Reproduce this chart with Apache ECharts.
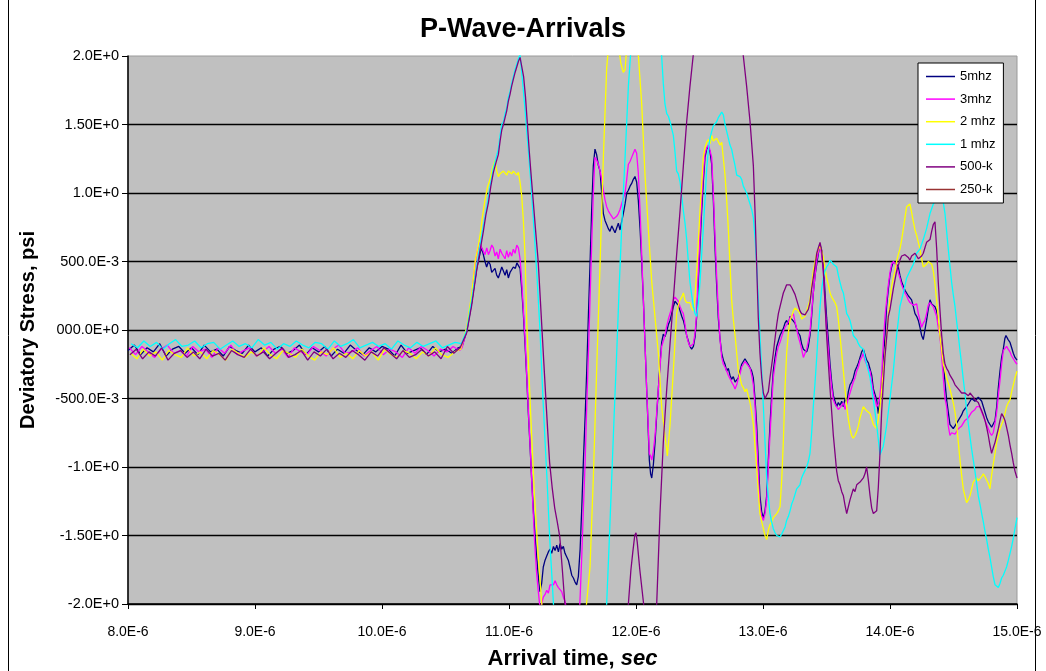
<!DOCTYPE html>
<html>
<head>
<meta charset="utf-8">
<script src="https://cdn.jsdelivr.net/npm/echarts@6/dist/echarts.min.js"></script>
<style>
  html, body { margin: 0; padding: 0; background: #fff; }
  #chart { width: 1046px; height: 671px; }
</style>
</head>
<body>
<div id="chart"></div>
<script>
// ---------- tick labels ----------
const xTickLabels = ['8.0E-6','9.0E-6','10.0E-6','11.0E-6','12.0E-6','13.0E-6','14.0E-6','15.0E-6'];
const yTickLabels = ['-2.0E+0','-1.50E+0','-1.0E+0','-500.0E-3','000.0E+0','500.0E-3','1.0E+0','1.50E+0','2.0E+0'];
const seriesNames = ['5mhz','3mhz','2 mhz','1 mhz','500-k','250-k'];

// ---------- pre-trigger noise (time in microseconds from noise start, step 0.05) ----------
const noiseStep = 0.05;
const noiseStarts = [8.00, 8.01, 8.02, 8.025, 8.015, 8.0];
const noise5mhz = [-0.15,-0.11,-0.18,-0.13,-0.16,-0.10,-0.19,-0.14,-0.12,-0.17,-0.13,-0.18,-0.11,-0.16,-0.14,-0.19,-0.12,-0.15,-0.17,-0.11,-0.16,-0.13,-0.19,-0.14,-0.12,-0.17,-0.15,-0.11,-0.18,-0.13,-0.16,-0.12,-0.19,-0.14,-0.17,-0.11,-0.15,-0.18,-0.13,-0.16,-0.12,-0.14,-0.19,-0.11,-0.17,-0.15,-0.13,-0.18,-0.12,-0.16,-0.14,-0.17,-0.13];
const noise3mhz = [-0.13,-0.18,-0.12,-0.16,-0.20,-0.14,-0.11,-0.17,-0.15,-0.19,-0.12,-0.16,-0.14,-0.20,-0.13,-0.17,-0.11,-0.18,-0.15,-0.13,-0.19,-0.16,-0.12,-0.17,-0.14,-0.20,-0.13,-0.16,-0.18,-0.12,-0.15,-0.19,-0.14,-0.11,-0.17,-0.16,-0.13,-0.19,-0.15,-0.12,-0.18,-0.14,-0.16,-0.20,-0.13,-0.17,-0.12,-0.15,-0.19,-0.14,-0.16,-0.12,-0.15];
const noise2mhz = [-0.17,-0.21,-0.14,-0.19,-0.16,-0.22,-0.15,-0.18,-0.20,-0.13,-0.19,-0.16,-0.21,-0.15,-0.18,-0.22,-0.14,-0.17,-0.20,-0.16,-0.19,-0.13,-0.18,-0.21,-0.15,-0.17,-0.20,-0.14,-0.19,-0.22,-0.16,-0.18,-0.13,-0.20,-0.17,-0.21,-0.15,-0.19,-0.16,-0.22,-0.14,-0.18,-0.20,-0.15,-0.17,-0.21,-0.16,-0.19,-0.13,-0.18,-0.20,-0.16,-0.14];
const noise1mhz = [-0.10,-0.13,-0.08,-0.12,-0.09,-0.14,-0.10,-0.07,-0.12,-0.11,-0.08,-0.13,-0.10,-0.09,-0.14,-0.11,-0.08,-0.12,-0.10,-0.13,-0.07,-0.11,-0.09,-0.14,-0.10,-0.12,-0.08,-0.11,-0.13,-0.09,-0.10,-0.14,-0.08,-0.12,-0.10,-0.07,-0.13,-0.11,-0.09,-0.12,-0.10,-0.14,-0.08,-0.11,-0.13,-0.09,-0.12,-0.10,-0.08,-0.13,-0.11,-0.09,-0.10];
const noise500k = [-0.18,-0.14,-0.21,-0.16,-0.19,-0.13,-0.22,-0.17,-0.15,-0.20,-0.16,-0.21,-0.14,-0.19,-0.17,-0.22,-0.15,-0.18,-0.20,-0.14,-0.19,-0.16,-0.21,-0.17,-0.13,-0.20,-0.18,-0.15,-0.22,-0.16,-0.19,-0.14,-0.21,-0.17,-0.20,-0.15,-0.18,-0.22,-0.16,-0.19,-0.13,-0.17,-0.21,-0.15,-0.20,-0.18,-0.14,-0.19,-0.16,-0.21,-0.12,-0.17,-0.13];
const noise250k = [];

// ---------- arrival waveforms [time us, stress psi] ----------
const wave5mhz = [[10.63,-0.12],[10.667,-0.01],[10.706,0.2],[10.746,0.45],[10.772,0.56],[10.785,0.6],[10.798,0.55],[10.811,0.5],[10.824,0.46],[10.838,0.5],[10.851,0.48],[10.864,0.42],[10.877,0.43],[10.89,0.45],[10.903,0.4],[10.916,0.38],[10.93,0.42],[10.943,0.46],[10.956,0.43],[10.969,0.4],[10.982,0.44],[10.995,0.38],[11.008,0.42],[11.021,0.44],[11.034,0.46],[11.05,0.45],[11.062,0.49],[11.074,0.5],[11.087,0.45],[11.1,0.3],[11.113,0.12],[11.126,-0.1],[11.14,-0.35],[11.152,-0.6],[11.166,-0.85],[11.179,-1.1],[11.192,-1.32],[11.205,-1.5],[11.218,-1.66],[11.231,-1.8],[11.244,-1.91],[11.257,-1.85],[11.27,-1.73],[11.284,-1.68],[11.297,-1.65],[11.31,-1.62],[11.323,-1.6],[11.336,-1.63],[11.35,-1.58],[11.363,-1.61],[11.376,-1.57],[11.389,-1.62],[11.402,-1.56],[11.415,-1.6],[11.428,-1.58],[11.441,-1.63],[11.454,-1.62],[11.467,-1.68],[11.48,-1.73],[11.494,-1.79],[11.507,-1.81],[11.52,-1.84],[11.533,-1.86],[11.546,-1.8],[11.56,-1.6],[11.573,-1.3],[11.586,-0.95],[11.6,-0.62],[11.612,-0.3],[11.625,0.1],[11.638,0.48],[11.651,0.88],[11.664,1.2],[11.677,1.32],[11.69,1.28],[11.704,1.2],[11.717,1.16],[11.73,1.0],[11.743,0.85],[11.756,0.8],[11.769,0.77],[11.782,0.74],[11.795,0.72],[11.809,0.76],[11.822,0.77],[11.835,0.71],[11.848,0.72],[11.861,0.78],[11.874,0.73],[11.887,0.74],[11.9,0.85],[11.914,0.92],[11.927,1.0],[11.94,1.02],[11.953,1.05],[11.966,1.07],[11.979,1.1],[11.992,1.12],[12.005,1.08],[12.018,0.95],[12.032,0.74],[12.045,0.5],[12.058,0.22],[12.071,-0.1],[12.084,-0.43],[12.097,-0.75],[12.105,-0.95],[12.115,-1.05],[12.124,-1.08],[12.137,-0.98],[12.15,-0.82],[12.163,-0.62],[12.176,-0.43],[12.189,-0.25],[12.202,-0.09],[12.215,-0.03],[12.228,-0.05],[12.242,-0.01],[12.255,0.04],[12.268,0.07],[12.281,0.12],[12.294,0.17],[12.307,0.21],[12.32,0.2],[12.333,0.18],[12.347,0.14],[12.36,0.1],[12.373,0.07],[12.386,0.02],[12.399,-0.04],[12.412,-0.08],[12.425,-0.12],[12.438,-0.14],[12.452,-0.12],[12.465,-0.05],[12.478,0.1],[12.491,0.35],[12.504,0.62],[12.517,0.87],[12.53,1.08],[12.543,1.26],[12.557,1.32],[12.57,1.34],[12.583,1.3],[12.596,1.21],[12.609,0.95],[12.622,0.61],[12.635,0.33],[12.648,0.09],[12.661,-0.06],[12.675,-0.17],[12.688,-0.22],[12.701,-0.25],[12.714,-0.3],[12.727,-0.28],[12.74,-0.33],[12.753,-0.36],[12.766,-0.34],[12.78,-0.38],[12.793,-0.37],[12.806,-0.35],[12.819,-0.3],[12.832,-0.25],[12.845,-0.24],[12.858,-0.21],[12.871,-0.22],[12.884,-0.25],[12.898,-0.26],[12.911,-0.3],[12.924,-0.35],[12.937,-0.5],[12.95,-0.69],[12.963,-0.95],[12.976,-1.21],[12.99,-1.33],[13.003,-1.37],[13.016,-1.32],[13.029,-1.21],[13.042,-0.95],[13.055,-0.69],[13.068,-0.48],[13.081,-0.3],[13.095,-0.2],[13.108,-0.12],[13.121,-0.08],[13.134,-0.04],[13.147,-0.03],[13.16,0.01],[13.173,0.05],[13.186,0.07],[13.2,0.04],[13.213,0.1],[13.226,0.08],[13.239,0.09],[13.252,0.05],[13.265,0.01],[13.278,-0.02],[13.291,-0.04],[13.304,-0.1],[13.318,-0.14],[13.331,-0.13],[13.344,-0.16],[13.357,-0.12],[13.37,-0.04],[13.383,0.1],[13.396,0.27],[13.41,0.4],[13.423,0.48],[13.436,0.56],[13.449,0.62],[13.462,0.58],[13.475,0.48],[13.488,0.28],[13.501,0.09],[13.515,-0.08],[13.528,-0.25],[13.541,-0.38],[13.554,-0.48],[13.567,-0.52],[13.58,-0.56],[13.593,-0.53],[13.606,-0.55],[13.62,-0.52],[13.633,-0.56],[13.646,-0.5],[13.659,-0.53],[13.672,-0.45],[13.685,-0.4],[13.698,-0.38],[13.711,-0.35],[13.724,-0.3],[13.738,-0.27],[13.751,-0.24],[13.764,-0.2],[13.777,-0.16],[13.79,-0.14],[13.803,-0.18],[13.816,-0.22],[13.83,-0.24],[13.843,-0.25],[13.856,-0.33],[13.869,-0.43],[13.882,-0.47],[13.895,-0.51],[13.908,-0.61],[13.921,-0.52],[13.934,-0.43],[13.947,-0.22],[13.961,-0.04],[13.973,0.17],[13.987,0.3],[14.0,0.4],[14.013,0.46],[14.026,0.5],[14.039,0.51],[14.052,0.48],[14.065,0.46],[14.078,0.4],[14.092,0.35],[14.105,0.32],[14.118,0.29],[14.131,0.27],[14.144,0.25],[14.157,0.24],[14.17,0.22],[14.184,0.17],[14.197,0.12],[14.21,0.1],[14.223,0.07],[14.236,0.02],[14.249,-0.04],[14.262,-0.07],[14.275,0.0],[14.288,0.07],[14.301,0.15],[14.315,0.22],[14.328,0.19],[14.341,0.2],[14.354,0.17],[14.367,0.14],[14.38,0.05],[14.393,-0.04],[14.407,-0.14],[14.42,-0.25],[14.433,-0.38],[14.446,-0.51],[14.459,-0.6],[14.472,-0.69],[14.485,-0.7],[14.498,-0.72],[14.512,-0.7],[14.525,-0.69],[14.538,-0.66],[14.551,-0.64],[14.564,-0.62],[14.577,-0.59],[14.59,-0.58],[14.603,-0.56],[14.617,-0.54],[14.63,-0.52],[14.643,-0.5],[14.656,-0.49],[14.669,-0.52],[14.682,-0.51],[14.695,-0.49],[14.708,-0.48],[14.722,-0.52],[14.735,-0.56],[14.748,-0.6],[14.761,-0.64],[14.774,-0.67],[14.787,-0.69],[14.8,-0.71],[14.813,-0.72],[14.827,-0.66],[14.84,-0.56],[14.853,-0.42],[14.866,-0.3],[14.879,-0.2],[14.892,-0.14],[14.905,-0.06],[14.913,-0.04],[14.93,-0.07],[14.945,-0.09],[14.958,-0.13],[14.971,-0.17],[14.984,-0.2],[15.0,-0.22]];

const wave3mhz = [[10.63,-0.13],[10.667,0.0],[10.706,0.24],[10.733,0.48],[10.752,0.58],[10.772,0.64],[10.785,0.6],[10.798,0.59],[10.811,0.55],[10.825,0.6],[10.838,0.55],[10.851,0.58],[10.864,0.62],[10.877,0.6],[10.89,0.54],[10.903,0.57],[10.916,0.52],[10.93,0.59],[10.943,0.56],[10.956,0.57],[10.969,0.52],[10.982,0.58],[10.995,0.53],[11.008,0.57],[11.021,0.54],[11.034,0.59],[11.048,0.56],[11.061,0.62],[11.074,0.6],[11.087,0.52],[11.1,0.36],[11.113,0.15],[11.126,-0.06],[11.139,-0.32],[11.152,-0.58],[11.166,-0.84],[11.179,-1.1],[11.192,-1.36],[11.205,-1.6],[11.218,-1.78],[11.231,-1.91],[11.244,-2.03],[11.257,-2.0],[11.27,-1.95],[11.284,-1.93],[11.297,-1.9],[11.31,-1.92],[11.323,-1.86],[11.336,-1.85],[11.35,-1.86],[11.363,-1.83],[11.376,-1.86],[11.389,-1.88],[11.402,-1.87],[11.415,-1.91],[11.428,-1.95],[11.441,-1.98],[11.46,-2.08],[11.5,-2.2],[11.55,-2.15],[11.56,-1.95],[11.573,-1.65],[11.586,-1.3],[11.6,-0.95],[11.612,-0.56],[11.625,-0.18],[11.638,0.22],[11.651,0.62],[11.664,1.0],[11.677,1.26],[11.69,1.24],[11.704,1.21],[11.717,1.16],[11.73,1.1],[11.743,1.02],[11.756,0.95],[11.769,0.9],[11.782,0.87],[11.795,0.85],[11.809,0.83],[11.822,0.81],[11.835,0.82],[11.848,0.83],[11.861,0.85],[11.874,0.88],[11.887,0.92],[11.9,0.96],[11.914,1.0],[11.927,1.1],[11.94,1.21],[11.953,1.23],[11.966,1.26],[11.979,1.29],[11.992,1.32],[12.005,1.29],[12.018,1.15],[12.032,0.87],[12.045,0.55],[12.058,0.22],[12.071,-0.1],[12.084,-0.43],[12.097,-0.72],[12.105,-0.9],[12.115,-0.92],[12.124,-0.95],[12.137,-0.88],[12.15,-0.77],[12.163,-0.6],[12.176,-0.43],[12.189,-0.27],[12.202,-0.12],[12.215,-0.08],[12.228,-0.04],[12.242,0.03],[12.255,0.08],[12.268,0.12],[12.281,0.16],[12.294,0.22],[12.307,0.24],[12.32,0.25],[12.333,0.21],[12.347,0.17],[12.36,0.14],[12.373,0.12],[12.386,0.04],[12.399,-0.04],[12.412,-0.09],[12.425,-0.12],[12.438,-0.13],[12.452,-0.1],[12.465,-0.02],[12.478,0.12],[12.491,0.43],[12.504,0.7],[12.517,0.95],[12.53,1.14],[12.543,1.29],[12.557,1.33],[12.57,1.35],[12.583,1.31],[12.596,1.26],[12.609,1.0],[12.622,0.69],[12.635,0.4],[12.648,0.14],[12.661,-0.06],[12.675,-0.2],[12.688,-0.25],[12.701,-0.27],[12.714,-0.3],[12.727,-0.33],[12.74,-0.34],[12.753,-0.38],[12.766,-0.4],[12.78,-0.43],[12.793,-0.4],[12.806,-0.35],[12.819,-0.32],[12.832,-0.27],[12.845,-0.25],[12.858,-0.23],[12.871,-0.22],[12.884,-0.26],[12.898,-0.28],[12.911,-0.33],[12.924,-0.4],[12.937,-0.55],[12.95,-0.78],[12.963,-1.05],[12.976,-1.29],[12.99,-1.36],[13.003,-1.39],[13.016,-1.34],[13.029,-1.24],[13.042,-1.0],[13.055,-0.77],[13.068,-0.55],[13.081,-0.35],[13.095,-0.25],[13.108,-0.17],[13.121,-0.12],[13.134,-0.09],[13.147,-0.05],[13.16,-0.01],[13.173,0.02],[13.186,0.04],[13.2,0.06],[13.213,0.09],[13.226,0.1],[13.239,0.12],[13.252,0.06],[13.265,0.01],[13.278,-0.05],[13.291,-0.09],[13.304,-0.14],[13.318,-0.2],[13.331,-0.17],[13.344,-0.14],[13.357,-0.08],[13.37,-0.01],[13.383,0.13],[13.396,0.27],[13.41,0.4],[13.423,0.51],[13.436,0.57],[13.449,0.61],[13.462,0.55],[13.475,0.43],[13.488,0.2],[13.501,0.01],[13.515,-0.15],[13.528,-0.3],[13.541,-0.42],[13.554,-0.51],[13.567,-0.54],[13.58,-0.56],[13.593,-0.58],[13.606,-0.59],[13.62,-0.55],[13.633,-0.53],[13.646,-0.58],[13.659,-0.59],[13.672,-0.5],[13.685,-0.46],[13.698,-0.42],[13.711,-0.38],[13.724,-0.35],[13.738,-0.3],[13.751,-0.27],[13.764,-0.22],[13.777,-0.2],[13.79,-0.17],[13.803,-0.22],[13.816,-0.25],[13.83,-0.28],[13.843,-0.3],[13.856,-0.38],[13.869,-0.46],[13.882,-0.5],[13.895,-0.56],[13.908,-0.54],[13.921,-0.48],[13.934,-0.33],[13.947,-0.1],[13.961,0.1],[13.974,0.22],[13.987,0.33],[14.0,0.42],[14.013,0.48],[14.026,0.5],[14.039,0.5],[14.052,0.47],[14.065,0.42],[14.078,0.38],[14.092,0.33],[14.105,0.3],[14.118,0.27],[14.131,0.25],[14.144,0.22],[14.157,0.2],[14.17,0.2],[14.184,0.18],[14.197,0.19],[14.21,0.19],[14.223,0.12],[14.236,0.07],[14.249,0.02],[14.262,0.05],[14.275,0.07],[14.288,0.12],[14.301,0.18],[14.315,0.2],[14.328,0.2],[14.341,0.17],[14.354,0.16],[14.367,0.1],[14.38,0.02],[14.393,-0.04],[14.407,-0.2],[14.42,-0.35],[14.433,-0.5],[14.446,-0.56],[14.459,-0.7],[14.472,-0.77],[14.485,-0.75],[14.498,-0.74],[14.512,-0.76],[14.525,-0.74],[14.538,-0.72],[14.551,-0.71],[14.564,-0.7],[14.577,-0.68],[14.59,-0.66],[14.603,-0.67],[14.617,-0.64],[14.63,-0.62],[14.643,-0.6],[14.656,-0.61],[14.669,-0.58],[14.682,-0.56],[14.695,-0.57],[14.708,-0.56],[14.722,-0.6],[14.735,-0.63],[14.748,-0.66],[14.761,-0.69],[14.774,-0.72],[14.787,-0.75],[14.8,-0.77],[14.813,-0.75],[14.827,-0.68],[14.84,-0.6],[14.853,-0.48],[14.866,-0.37],[14.879,-0.25],[14.892,-0.15],[14.905,-0.15],[14.918,-0.12],[14.93,-0.14],[14.945,-0.16],[14.958,-0.19],[14.971,-0.2],[14.984,-0.23],[15.0,-0.25]];

const wave2mhz = [[10.63,-0.14],[10.667,0.02],[10.706,0.26],[10.733,0.5],[10.759,0.62],[10.772,0.69],[10.79,0.82],[10.811,0.95],[10.83,1.04],[10.851,1.1],[10.87,1.18],[10.89,1.24],[10.903,1.16],[10.916,1.12],[10.929,1.14],[10.943,1.13],[10.956,1.16],[10.969,1.15],[10.982,1.13],[10.995,1.16],[11.008,1.16],[11.021,1.14],[11.034,1.16],[11.048,1.15],[11.061,1.13],[11.074,1.15],[11.087,1.08],[11.1,0.98],[11.113,0.8],[11.126,0.55],[11.14,0.05],[11.17,-0.6],[11.2,-1.2],[11.23,-1.65],[11.26,-2.02],[11.3,-2.3],[11.55,-2.3],[11.6,-2.1],[11.638,-1.73],[11.664,-1.08],[11.69,-0.3],[11.717,0.48],[11.743,1.26],[11.769,1.91],[11.782,2.05],[11.8,2.3],[11.86,2.1],[11.88,1.95],[11.9,1.88],[11.914,1.9],[11.93,2.1],[11.97,2.3],[12.0,2.15],[12.019,2.0],[12.045,1.65],[12.071,1.13],[12.097,0.74],[12.124,0.35],[12.15,0.09],[12.176,-0.17],[12.202,-0.56],[12.228,-0.77],[12.247,-0.92],[12.268,-0.69],[12.294,-0.3],[12.32,0.12],[12.333,0.18],[12.347,0.22],[12.36,0.24],[12.373,0.27],[12.386,0.22],[12.399,0.2],[12.412,0.21],[12.425,0.2],[12.438,0.16],[12.452,0.14],[12.465,0.25],[12.478,0.43],[12.491,0.65],[12.504,0.87],[12.517,1.06],[12.53,1.26],[12.543,1.33],[12.557,1.37],[12.57,1.39],[12.583,1.36],[12.596,1.42],[12.609,1.38],[12.622,1.37],[12.635,1.4],[12.648,1.39],[12.661,1.35],[12.675,1.37],[12.688,1.25],[12.701,1.13],[12.714,0.95],[12.727,0.74],[12.74,0.48],[12.753,0.22],[12.766,0.08],[12.78,-0.04],[12.793,-0.17],[12.806,-0.3],[12.819,-0.35],[12.832,-0.4],[12.845,-0.42],[12.858,-0.45],[12.871,-0.43],[12.884,-0.48],[12.898,-0.53],[12.911,-0.6],[12.924,-0.69],[12.937,-0.85],[12.95,-1.0],[12.963,-1.18],[12.976,-1.34],[12.99,-1.4],[13.003,-1.45],[13.016,-1.5],[13.029,-1.53],[13.042,-1.46],[13.055,-1.42],[13.068,-1.4],[13.081,-1.37],[13.095,-1.36],[13.108,-1.34],[13.121,-1.32],[13.134,-1.29],[13.147,-1.1],[13.16,-0.82],[13.173,-0.43],[13.186,-0.17],[13.2,-0.02],[13.213,0.07],[13.226,0.1],[13.239,0.14],[13.252,0.16],[13.265,0.17],[13.278,0.14],[13.291,0.12],[13.304,0.08],[13.318,0.07],[13.331,0.1],[13.344,0.14],[13.357,0.18],[13.37,0.22],[13.383,0.32],[13.396,0.43],[13.41,0.5],[13.423,0.56],[13.436,0.59],[13.449,0.61],[13.462,0.58],[13.475,0.53],[13.488,0.45],[13.501,0.38],[13.515,0.33],[13.528,0.27],[13.541,0.24],[13.554,0.22],[13.567,0.2],[13.58,0.17],[13.593,0.08],[13.606,-0.04],[13.62,-0.17],[13.633,-0.3],[13.646,-0.43],[13.659,-0.56],[13.672,-0.65],[13.685,-0.72],[13.698,-0.77],[13.711,-0.79],[13.724,-0.77],[13.738,-0.74],[13.751,-0.7],[13.764,-0.64],[13.777,-0.6],[13.79,-0.56],[13.803,-0.57],[13.816,-0.59],[13.83,-0.58],[13.843,-0.61],[13.856,-0.65],[13.869,-0.69],[13.882,-0.7],[13.895,-0.72],[13.908,-0.65],[13.921,-0.56],[13.934,-0.44],[13.947,-0.3],[13.96,-0.17],[13.973,-0.04],[13.986,0.09],[13.999,0.22],[14.013,0.32],[14.026,0.38],[14.039,0.43],[14.052,0.5],[14.065,0.55],[14.078,0.59],[14.092,0.66],[14.105,0.74],[14.118,0.82],[14.131,0.9],[14.144,0.9],[14.157,0.92],[14.17,0.86],[14.184,0.79],[14.197,0.73],[14.21,0.69],[14.223,0.64],[14.236,0.59],[14.249,0.52],[14.262,0.46],[14.275,0.47],[14.288,0.48],[14.301,0.5],[14.315,0.51],[14.328,0.48],[14.341,0.43],[14.354,0.34],[14.367,0.22],[14.38,0.09],[14.393,-0.04],[14.407,-0.15],[14.42,-0.25],[14.433,-0.3],[14.446,-0.35],[14.459,-0.39],[14.472,-0.43],[14.485,-0.48],[14.498,-0.53],[14.512,-0.6],[14.525,-0.69],[14.538,-0.82],[14.551,-0.95],[14.564,-1.06],[14.577,-1.16],[14.59,-1.21],[14.603,-1.26],[14.617,-1.24],[14.63,-1.21],[14.643,-1.16],[14.656,-1.11],[14.669,-1.1],[14.682,-1.08],[14.695,-1.1],[14.708,-1.11],[14.722,-1.07],[14.735,-1.05],[14.748,-1.07],[14.761,-1.08],[14.774,-1.12],[14.787,-1.16],[14.8,-1.06],[14.813,-0.98],[14.827,-0.9],[14.84,-0.82],[14.853,-0.77],[14.866,-0.72],[14.879,-0.69],[14.892,-0.66],[14.905,-0.61],[14.918,-0.56],[14.932,-0.53],[14.945,-0.51],[14.958,-0.45],[14.971,-0.4],[14.984,-0.35],[15.0,-0.3]];

const wave1mhz = [[10.63,-0.1],[10.667,0.0],[10.706,0.22],[10.746,0.47],[10.772,0.62],[10.798,0.76],[10.818,0.86],[10.838,0.97],[10.857,1.08],[10.877,1.18],[10.897,1.25],[10.916,1.32],[10.93,1.42],[10.943,1.5],[10.956,1.52],[10.969,1.58],[10.982,1.62],[10.995,1.7],[11.008,1.74],[11.021,1.8],[11.034,1.85],[11.048,1.9],[11.061,1.94],[11.074,1.98],[11.087,2.01],[11.1,1.88],[11.113,1.75],[11.127,1.6],[11.14,1.45],[11.155,1.28],[11.17,1.1],[11.19,0.83],[11.205,0.62],[11.22,0.4],[11.232,0.2],[11.244,0.0],[11.257,-0.28],[11.27,-0.55],[11.285,-0.83],[11.3,-1.1],[11.312,-1.35],[11.325,-1.6],[11.338,-1.8],[11.35,-2.0],[11.37,-2.3],[11.74,-2.3],[11.769,-2.0],[11.789,-1.55],[11.809,-1.08],[11.828,-0.62],[11.848,-0.17],[11.867,0.3],[11.887,0.74],[11.9,1.0],[11.914,1.26],[11.927,1.52],[11.94,1.78],[11.958,2.02],[11.98,2.3],[12.17,2.3],[12.202,2.0],[12.215,1.8],[12.228,1.65],[12.242,1.58],[12.255,1.56],[12.268,1.52],[12.281,1.47],[12.294,1.42],[12.307,1.3],[12.32,1.16],[12.333,1.14],[12.347,1.08],[12.36,0.98],[12.373,0.87],[12.386,0.78],[12.399,0.66],[12.412,0.5],[12.425,0.35],[12.438,0.26],[12.452,0.17],[12.465,0.12],[12.478,0.1],[12.491,0.2],[12.504,0.35],[12.517,0.55],[12.53,0.74],[12.543,0.95],[12.557,1.18],[12.57,1.32],[12.583,1.4],[12.596,1.45],[12.609,1.49],[12.622,1.5],[12.635,1.52],[12.648,1.55],[12.661,1.56],[12.675,1.59],[12.688,1.57],[12.701,1.5],[12.714,1.45],[12.727,1.4],[12.74,1.35],[12.753,1.32],[12.766,1.26],[12.78,1.2],[12.793,1.13],[12.806,1.12],[12.819,1.12],[12.832,1.1],[12.845,1.05],[12.858,1.04],[12.871,1.0],[12.884,0.96],[12.898,0.92],[12.911,0.88],[12.924,0.82],[12.937,0.68],[12.95,0.48],[12.963,0.22],[12.976,-0.04],[12.99,-0.3],[13.003,-0.56],[13.016,-0.82],[13.029,-1.08],[13.042,-1.22],[13.055,-1.34],[13.068,-1.4],[13.081,-1.45],[13.095,-1.48],[13.108,-1.5],[13.121,-1.49],[13.134,-1.51],[13.147,-1.49],[13.16,-1.5],[13.173,-1.44],[13.186,-1.39],[13.2,-1.36],[13.213,-1.32],[13.226,-1.27],[13.239,-1.24],[13.252,-1.2],[13.265,-1.16],[13.278,-1.15],[13.291,-1.13],[13.304,-1.08],[13.318,-1.05],[13.331,-1.04],[13.344,-1.0],[13.357,-0.96],[13.37,-0.9],[13.383,-0.75],[13.396,-0.56],[13.41,-0.38],[13.423,-0.2],[13.436,0.0],[13.449,0.17],[13.462,0.3],[13.475,0.38],[13.488,0.43],[13.501,0.46],[13.515,0.48],[13.528,0.51],[13.541,0.5],[13.554,0.48],[13.567,0.49],[13.58,0.46],[13.593,0.4],[13.606,0.35],[13.62,0.3],[13.633,0.27],[13.646,0.2],[13.659,0.12],[13.672,0.1],[13.685,0.07],[13.698,0.02],[13.711,-0.04],[13.724,-0.05],[13.738,-0.07],[13.751,-0.1],[13.764,-0.12],[13.777,-0.12],[13.79,-0.14],[13.803,-0.2],[13.816,-0.25],[13.83,-0.3],[13.843,-0.35],[13.856,-0.43],[13.869,-0.51],[13.882,-0.6],[13.895,-0.69],[13.908,-0.8],[13.921,-0.91],[13.947,-0.85],[13.973,-0.7],[14.0,-0.5],[14.026,-0.3],[14.052,-0.04],[14.078,0.17],[14.105,0.27],[14.131,0.38],[14.157,0.43],[14.184,0.48],[14.21,0.56],[14.236,0.59],[14.262,0.66],[14.288,0.74],[14.315,0.85],[14.341,0.92],[14.367,0.95],[14.38,0.97],[14.395,0.96],[14.407,0.98],[14.42,0.93],[14.433,0.85],[14.446,0.72],[14.459,0.59],[14.472,0.47],[14.485,0.35],[14.498,0.26],[14.512,0.17],[14.525,0.06],[14.538,-0.04],[14.551,-0.15],[14.564,-0.25],[14.577,-0.36],[14.59,-0.46],[14.603,-0.58],[14.617,-0.69],[14.63,-0.78],[14.643,-0.87],[14.656,-0.95],[14.669,-1.03],[14.682,-1.12],[14.695,-1.21],[14.708,-1.27],[14.722,-1.34],[14.735,-1.4],[14.748,-1.47],[14.761,-1.53],[14.774,-1.6],[14.787,-1.66],[14.8,-1.73],[14.813,-1.8],[14.827,-1.86],[14.84,-1.87],[14.853,-1.88],[14.866,-1.85],[14.879,-1.81],[14.892,-1.79],[14.905,-1.76],[14.918,-1.73],[14.932,-1.68],[14.945,-1.63],[14.958,-1.58],[14.971,-1.52],[14.984,-1.45],[15.0,-1.37]];

const wave500k = [[10.63,-0.14],[10.667,-0.02],[10.706,0.18],[10.746,0.44],[10.772,0.58],[10.798,0.72],[10.818,0.84],[10.838,0.93],[10.857,1.05],[10.877,1.15],[10.897,1.22],[10.916,1.28],[10.93,1.38],[10.943,1.46],[10.956,1.5],[10.969,1.55],[10.982,1.6],[10.995,1.67],[11.008,1.72],[11.021,1.78],[11.034,1.83],[11.048,1.88],[11.061,1.92],[11.074,1.96],[11.087,1.99],[11.1,2.0],[11.115,1.85],[11.13,1.7],[11.145,1.5],[11.16,1.3],[11.175,1.12],[11.19,0.95],[11.21,0.72],[11.23,0.5],[11.245,0.25],[11.26,0.0],[11.275,-0.25],[11.29,-0.5],[11.305,-0.74],[11.32,-0.97],[11.34,-1.15],[11.36,-1.3],[11.38,-1.4],[11.4,-1.51],[11.42,-1.75],[11.44,-2.0],[11.46,-2.3],[11.9,-2.3],[11.94,-2.0],[11.96,-1.75],[11.975,-1.62],[11.99,-1.5],[12.0,-1.48],[12.01,-1.55],[12.03,-1.75],[12.06,-2.0],[12.08,-2.3],[12.13,-2.3],[12.163,-2.0],[12.189,-1.34],[12.215,-0.82],[12.242,-0.43],[12.268,-0.1],[12.294,0.22],[12.32,0.55],[12.347,0.87],[12.373,1.2],[12.399,1.52],[12.425,1.78],[12.45,2.0],[12.48,2.3],[12.81,2.3],[12.845,2.0],[12.871,1.78],[12.898,1.52],[12.924,1.2],[12.937,0.87],[12.95,0.48],[12.963,0.09],[12.976,-0.17],[12.99,-0.35],[13.003,-0.46],[13.016,-0.5],[13.029,-0.51],[13.042,-0.45],[13.055,-0.35],[13.068,-0.26],[13.081,-0.17],[13.095,-0.06],[13.108,0.04],[13.121,0.12],[13.134,0.17],[13.147,0.22],[13.16,0.27],[13.173,0.3],[13.186,0.33],[13.2,0.32],[13.213,0.33],[13.226,0.31],[13.239,0.3],[13.252,0.26],[13.265,0.22],[13.278,0.18],[13.291,0.14],[13.304,0.12],[13.318,0.12],[13.331,0.11],[13.344,0.12],[13.357,0.15],[13.37,0.2],[13.383,0.3],[13.396,0.38],[13.41,0.47],[13.423,0.56],[13.436,0.6],[13.449,0.64],[13.462,0.58],[13.475,0.43],[13.488,0.2],[13.501,-0.04],[13.515,-0.25],[13.528,-0.43],[13.541,-0.6],[13.554,-0.77],[13.567,-0.9],[13.58,-1.03],[13.593,-1.1],[13.606,-1.13],[13.62,-1.18],[13.633,-1.21],[13.646,-1.28],[13.659,-1.34],[13.672,-1.29],[13.685,-1.24],[13.698,-1.2],[13.711,-1.16],[13.724,-1.18],[13.738,-1.13],[13.751,-1.14],[13.764,-1.11],[13.777,-1.1],[13.79,-1.08],[13.803,-1.05],[13.816,-1.0],[13.83,-1.1],[13.843,-1.21],[13.856,-1.3],[13.869,-1.34],[13.882,-1.33],[13.895,-1.32],[13.908,-1.15],[13.921,-0.9],[13.934,-0.6],[13.947,-0.4],[13.96,-0.2],[13.974,-0.05],[13.987,0.1],[14.0,0.15],[14.026,0.3],[14.052,0.43],[14.078,0.51],[14.092,0.54],[14.105,0.53],[14.118,0.55],[14.131,0.56],[14.144,0.53],[14.157,0.51],[14.17,0.54],[14.184,0.53],[14.197,0.56],[14.21,0.55],[14.223,0.52],[14.236,0.51],[14.249,0.54],[14.262,0.56],[14.275,0.6],[14.288,0.64],[14.301,0.63],[14.315,0.66],[14.328,0.72],[14.341,0.77],[14.354,0.79],[14.367,0.6],[14.38,0.35],[14.393,0.15],[14.407,-0.04],[14.42,-0.17],[14.433,-0.25],[14.446,-0.28],[14.459,-0.3],[14.472,-0.33],[14.485,-0.35],[14.498,-0.37],[14.512,-0.4],[14.525,-0.41],[14.538,-0.43],[14.551,-0.44],[14.564,-0.46],[14.577,-0.45],[14.59,-0.46],[14.603,-0.47],[14.617,-0.48],[14.63,-0.46],[14.643,-0.46],[14.656,-0.49],[14.669,-0.51],[14.682,-0.52],[14.695,-0.53],[14.708,-0.56],[14.722,-0.59],[14.735,-0.62],[14.748,-0.66],[14.761,-0.71],[14.774,-0.77],[14.787,-0.84],[14.8,-0.9],[14.813,-0.86],[14.827,-0.82],[14.84,-0.77],[14.853,-0.72],[14.866,-0.66],[14.879,-0.61],[14.892,-0.63],[14.905,-0.66],[14.918,-0.71],[14.932,-0.77],[14.945,-0.84],[14.958,-0.9],[14.971,-0.97],[14.984,-1.03],[15.0,-1.08]];

const wave250k = [];

// ---------- assemble ----------
const noiseSets = [noise5mhz, noise3mhz, noise2mhz, noise1mhz, noise500k, noise250k];
const waveSets  = [wave5mhz, wave3mhz, wave2mhz, wave1mhz, wave500k, wave250k];
const colors = ['#000080', '#FF00FF', '#FFFF00', '#00FFFF', '#800080', '#993333'];

function assemble(noise, start, wave) {
  return noise.map((v, i) => [start + i * noiseStep, v]).concat(wave);
}

const FONT = 'Liberation Sans, Arial, Helvetica, sans-serif';
const chart = echarts.init(document.getElementById('chart'), null, { renderer: 'canvas' });

const series = seriesNames.map((name, k) => ({
  name: name,
  type: 'line',
  data: assemble(noiseSets[k], noiseStarts[k], waveSets[k]),
  symbol: 'none',
  showSymbol: false,
  clip: true,
  lineStyle: { color: colors[k], width: 1.3 },
  itemStyle: { color: colors[k] },
  emphasis: { disabled: true },
  animation: false
}));

chart.setOption({
  animation: false,
  backgroundColor: '#ffffff',
  title: {
    text: 'P-Wave-Arrivals',
    left: 'center',
    top: 11,
    textStyle: { fontFamily: FONT, fontSize: 27, fontWeight: 'bold', color: '#000' }
  },
  legend: {
    orient: 'vertical',
    left: 918,
    top: 63,
    padding: [7, 8, 7, 8],
    itemGap: 9.6,
    itemWidth: 29,
    itemHeight: 14,
    icon: 'path://M0,0L290,0L290,15L0,15Z',
    symbolKeepAspect: true,
    backgroundColor: '#ffffff',
    borderColor: '#000000',
    borderWidth: 1,
    textStyle: { fontFamily: FONT, fontSize: 13, color: '#000' },
    data: seriesNames
  },
  grid: {
    left: 128, right: 29, top: 56, bottom: 67,
    outerBoundsMode: 'none',
    containLabel: false,
    show: true,
    backgroundColor: '#C0C0C0',
    borderColor: '#9a9a9a',
    borderWidth: 1
  },
  xAxis: {
    type: 'value',
    min: 8, max: 15, interval: 1,
    name: '{a|Arrival time, }{b|sec}',
    nameLocation: 'middle',
    nameGap: 44,
    nameTextStyle: {
      rich: {
        a: { fontFamily: FONT, fontSize: 22, fontWeight: 'bold', color: '#000' },
        b: { fontFamily: FONT, fontSize: 22, fontWeight: 'bold', fontStyle: 'italic', color: '#000' }
      }
    },
    axisLine: { show: true, onZero: false, lineStyle: { color: '#000', width: 1.5 } },
    axisTick: { show: true, inside: false, length: 5, lineStyle: { color: '#000', width: 1 } },
    axisLabel: {
      margin: 21,
      fontFamily: FONT, fontSize: 14, color: '#000',
      formatter: (v) => xTickLabels[Math.round(v - 8)]
    },
    splitLine: { show: false }
  },
  yAxis: {
    type: 'value',
    min: -2, max: 2, interval: 0.5,
    name: 'Deviatory Stress, psi',
    nameLocation: 'middle',
    nameGap: 90,
    nameTextStyle: { fontFamily: FONT, fontSize: 20, fontWeight: 'bold', color: '#000' },
    axisLine: { show: true, onZero: false, lineStyle: { color: '#000', width: 1.5 } },
    axisTick: { show: true, inside: false, length: 6, lineStyle: { color: '#000', width: 1 } },
    axisLabel: {
      margin: 9,
      fontFamily: FONT, fontSize: 14.5, color: '#000',
      formatter: (v) => yTickLabels[Math.round((v + 2) / 0.5)]
    },
    splitLine: {
      show: true,
      lineStyle: { color: ['#000','#000','#000','#000','#000','#000','#000','#000','rgba(0,0,0,0)'], width: 1.3 }
    }
  },
  graphic: [
    { type: 'line', shape: { x1: 8.5, y1: 0, x2: 8.5, y2: 671 }, style: { stroke: '#000', lineWidth: 1 }, silent: true },
    { type: 'line', shape: { x1: 1035.5, y1: 0, x2: 1035.5, y2: 671 }, style: { stroke: '#000', lineWidth: 1 }, silent: true }
  ],
  series: series
});
</script>
</body>
</html>
